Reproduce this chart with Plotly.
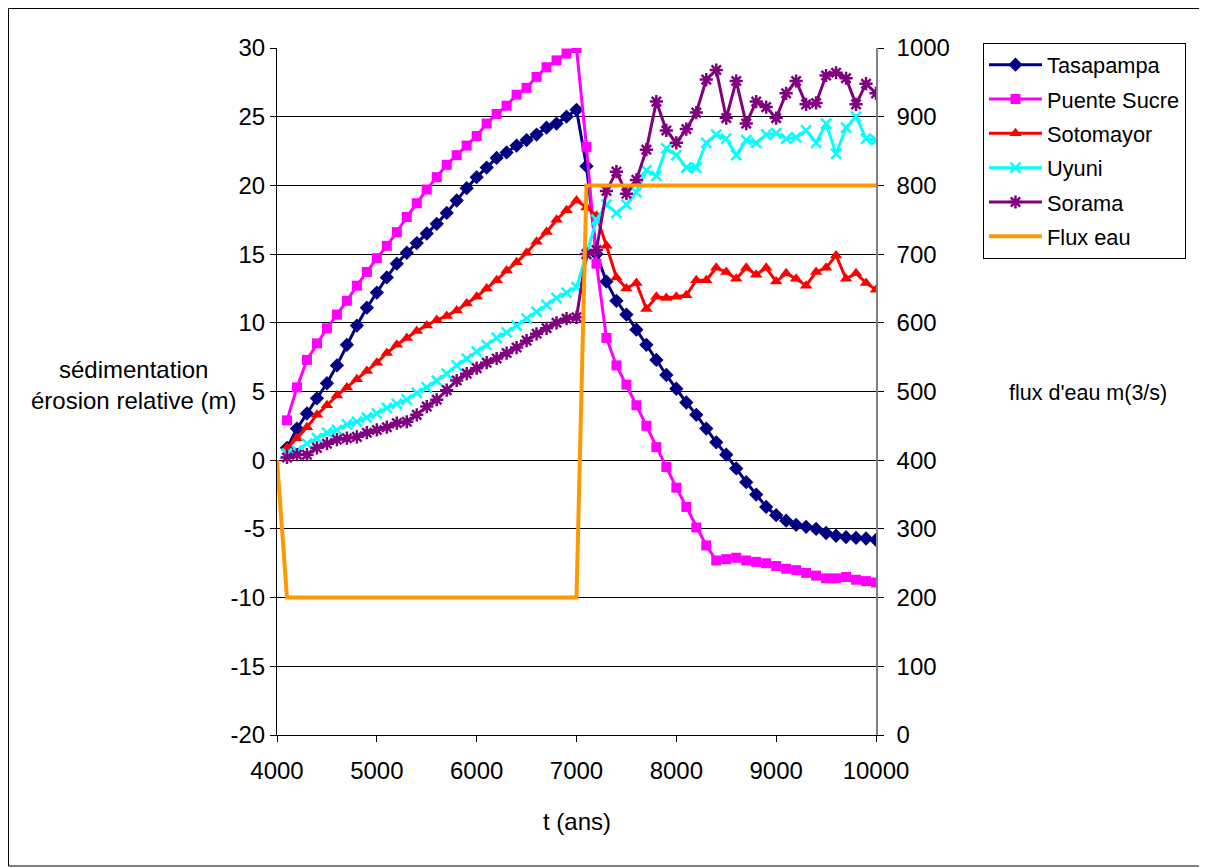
import plotly.graph_objects as go

years = [4100 + 100 * i for i in range(60)]

tasapampa = [0.9, 2.3, 3.4, 4.5, 5.6, 6.9, 8.4, 9.8, 11.1, 12.2,
             13.3, 14.3, 15.1, 15.8, 16.5, 17.2, 18.0, 18.9, 19.8, 20.6,
             21.3, 22.0, 22.4, 22.9, 23.3, 23.7, 24.2, 24.5, 25.0, 25.5,
             21.4, 15.0, 13.0, 11.6, 10.6, 9.5, 8.4, 7.3, 6.2, 5.2,
             4.2, 3.3, 2.3, 1.3, 0.4, -0.6, -1.6, -2.5, -3.4, -4.0,
             -4.4, -4.7, -4.85, -5.0, -5.3, -5.5, -5.6, -5.65, -5.7, -5.8]

puente_sucre = [2.9, 5.3, 7.3, 8.5, 9.6, 10.6, 11.6, 12.7, 13.7, 14.7,
                15.6, 16.6, 17.7, 18.7, 19.7, 20.6, 21.5, 22.2, 22.9, 23.6,
                24.5, 25.2, 25.8, 26.6, 27.1, 27.9, 28.6, 29.1, 29.6, 30.0,
                22.8, 14.3, 8.9, 6.9, 5.5, 4.0, 2.5, 0.95, -0.5, -2.0,
                -3.4, -4.9, -6.2, -7.3, -7.2, -7.1, -7.3, -7.4, -7.5, -7.7,
                -7.9, -8.0, -8.2, -8.4, -8.6, -8.6, -8.5, -8.7, -8.8, -8.9]

sotomayor = [0.9, 1.6, 2.4, 3.3, 4.0, 4.7, 5.3, 5.9, 6.5, 7.1,
             7.8, 8.4, 8.9, 9.4, 9.8, 10.2, 10.5, 10.9, 11.4, 11.9,
             12.5, 13.1, 13.8, 14.4, 15.1, 15.9, 16.6, 17.5, 18.2, 18.9,
             18.4, 17.8, 15.6, 13.3, 12.5, 12.9, 11.0, 11.9, 11.8, 11.9,
             12.0, 13.1, 13.1, 14.0, 13.7, 13.2, 14.0, 13.5, 14.0, 13.0,
             13.6, 13.2, 12.7, 13.7, 14.0, 14.9, 13.2, 13.6, 12.9, 12.4]

uyuni = [0.5, 0.7, 1.2, 1.6, 2.0, 2.2, 2.6, 2.8, 3.1, 3.4,
         3.8, 4.1, 4.4, 4.9, 5.3, 5.8, 6.3, 6.9, 7.4, 7.9,
         8.4, 8.9, 9.3, 9.8, 10.3, 10.8, 11.3, 11.8, 12.2, 12.6,
         15.0, 17.5, 18.6, 18.0, 18.6, 19.5, 21.1, 20.7, 22.7, 22.2,
         21.3, 21.3, 23.1, 23.7, 23.4, 22.2, 23.3, 23.1, 23.7, 23.8,
         23.4, 23.5, 24.0, 23.1, 24.5, 22.3, 24.2, 25.0, 23.4, 23.3]

sorama = [0.2, 0.4, 0.4, 0.9, 1.2, 1.5, 1.6, 1.7, 2.0, 2.2,
          2.4, 2.7, 2.8, 3.3, 3.9, 4.4, 5.1, 5.8, 6.3, 6.7,
          7.1, 7.4, 7.8, 8.2, 8.7, 9.2, 9.6, 10.0, 10.3, 10.4,
          15.0, 15.3, 19.6, 21.0, 19.4, 20.4, 22.6, 26.1, 24.0, 23.1,
          24.1, 25.3, 27.7, 28.4, 24.9, 27.6, 24.5, 26.1, 25.7, 24.9,
          26.7, 27.6, 25.9, 26.0, 28.0, 28.2, 27.8, 25.9, 27.4, 26.7]

flux_t = [4000, 4100, 7000, 7100, 10000]
flux = [400, 200, 200, 800, 800]

x_ticks = [4000, 5000, 6000, 7000, 8000, 9000, 10000]
x_ticktext = ["4000", "5000", "6000", "7000", "8000", "9000", "10000"]
y_ticks = [-20, -15, -10, -5, 0, 5, 10, 15, 20, 25, 30]
y_ticktext = ["-20", "-15", "-10", "-5", "0", "5", "10", "15", "20", "25", "30"]

FONT = "Liberation Sans"

fig = go.Figure()

series = [
    ("Tasapampa", tasapampa, "#000080", dict(symbol="diamond", size=11, color="#000080")),
    ("Puente Sucre", puente_sucre, "#FF00FF", dict(symbol="square", size=10, color="#FF00FF")),
    ("Sotomayor", sotomayor, "#FF0000", dict(symbol="triangle-up", size=11, color="#FF0000")),
    ("Uyuni", uyuni, "#00FFFF", dict(symbol="x-thin-open", size=10, color="#00FFFF",
                                    line=dict(width=2.5, color="#00FFFF"))),
    ("Sorama", sorama, "#800080", dict(symbol="asterisk-open", size=11, color="#800080",
                                      line=dict(width=2.5, color="#800080"))),
]

for i, (name, vals, col, mk) in enumerate(series):
    fig.add_trace(go.Scatter(x=years, y=vals, name=name, mode="lines+markers",
                             line=dict(color=col, width=3), marker=mk,
                             legendgroup=f"g{i}"))

fig.add_trace(go.Scatter(x=flux_t, y=flux, name="Flux eau", mode="lines",
                         line=dict(color="#FF9900", width=4), yaxis="y2",
                         legendgroup="g5"))

fig.update_layout(
    width=1199, height=860,
    margin=dict(l=269, r=331, t=40, b=133),
    paper_bgcolor="white", plot_bgcolor="white",
    font=dict(family=FONT, size=24, color="black"),
    xaxis=dict(range=[4000, 10000], tickvals=x_ticks, ticktext=x_ticktext, showgrid=False,
               showline=True, linecolor="black", linewidth=1,
               ticks="outside", ticklen=6, tickcolor="black",
               ticklabelstandoff=8,
               tickfont=dict(size=24), zeroline=False),
    yaxis=dict(range=[-20, 30], tickvals=y_ticks, ticktext=y_ticktext, showgrid=True,
               gridcolor="black", gridwidth=1, zeroline=False,
               showline=True, linecolor="black", linewidth=1,
               ticks="outside", ticklen=6, tickcolor="black",
               tickfont=dict(size=24)),
    yaxis2=dict(range=[0, 1000], dtick=100, overlaying="y", side="right",
                showgrid=False, zeroline=False, showline=True,
                linecolor="#808080", linewidth=1.5, ticks="outside",
                ticklen=6, tickcolor="black", ticklabelstandoff=8,
                tickfont=dict(size=24)),
    legend=dict(x=1.1786, y=1.0073, xanchor="left", yanchor="top",
                bordercolor="black", borderwidth=1, bgcolor="white",
                font=dict(family=FONT, size=21.8), itemwidth=53,
                tracegroupgap=3),
    showlegend=True,
)

fig.add_annotation(text="sédimentation<br>érosion relative (m)", xref="paper", yref="paper",
                   x=-0.2404, y=0.5095, showarrow=False, font=dict(size=24),
                   xanchor="center", yanchor="middle")
fig.add_annotation(text="flux d'eau m(3/s)", xref="paper", yref="paper",
                   x=1.354, y=0.4978, showarrow=False, font=dict(size=21.5),
                   xanchor="center", yanchor="middle")
fig.add_annotation(text="t (ans)", xref="paper", yref="paper",
                   x=0.5008, y=-0.1266, showarrow=False, font=dict(size=24),
                   xanchor="center", yanchor="middle")

fig.add_shape(type="rect", xref="paper", yref="paper",
              x0=-0.4482, x1=1.5492, y0=-0.1907, y1=1.0575,
              line=dict(color="black", width=1), fillcolor="rgba(0,0,0,0)")

fig.write_html("out.html")
